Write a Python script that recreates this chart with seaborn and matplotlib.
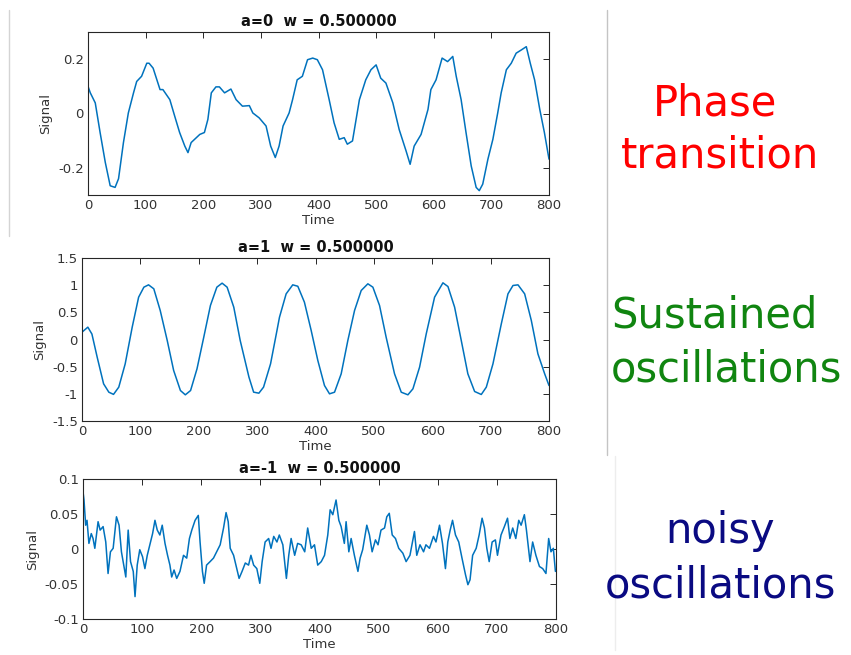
"""
plot.py
-------
Three MATLAB-style signal traces with regime labels on the right.
"""

import matplotlib
matplotlib.use("Agg")
import matplotlib.pyplot as plt
import pandas as pd
import seaborn as sns
from matplotlib.lines import Line2D
from matplotlib.ticker import FuncFormatter

# ---- data ----
phase_time = [0, 4, 12.6, 21, 30, 38.5, 47, 53, 61.5, 70, 79, 84.5, 93, 102, 106,
              113, 125, 130, 142, 150.5, 159, 168, 173.5, 179, 188, 194, 202, 208,
              214, 222, 228, 237, 248, 257, 268, 280, 286, 297, 309, 317, 325,
              331.6, 338.5, 349, 355, 363, 372, 381, 390, 398, 407, 418.5, 427,
              436, 444.6, 450, 459, 471, 482, 491, 500, 508, 517, 529, 540, 552,
              559, 566, 578, 590, 595, 604, 614.5, 624, 633, 639, 647.5, 656, 665,
              673.6, 679, 685, 694, 702.6, 711, 717, 726, 734.5, 743, 752, 760.6,
              767.5, 775, 784, 792, 800]
phase_signal = [0.10, 0.076, 0.039, -0.07, -0.18, -0.266, -0.272, -0.24, -0.107,
                0.002, 0.076, 0.118, 0.137, 0.185, 0.185, 0.167, 0.088, 0.088,
                0.051, -0.01, -0.07, -0.12, -0.144, -0.107, -0.089, -0.077, -0.07,
                -0.022, 0.076, 0.098, 0.098, 0.076, 0.09, 0.051, 0.027, 0.029,
                0.002, -0.016, -0.046, -0.12, -0.162, -0.12, -0.046, 0.002, 0.051,
                0.124, 0.137, 0.198, 0.204, 0.198, 0.161, 0.051, -0.034, -0.095,
                -0.089, -0.113, -0.101, 0.051, 0.124, 0.161, 0.179, 0.13, 0.112,
                0.039, -0.059, -0.138, -0.187, -0.12, -0.077, 0.015, 0.088, 0.124,
                0.204, 0.191, 0.21, 0.137, 0.051, -0.07, -0.193, -0.272, -0.284,
                -0.26, -0.168, -0.095, 0.002, 0.076, 0.161, 0.185, 0.222, 0.234,
                0.246, 0.185, 0.124, 0.015, -0.07, -0.168]

sustained_time = [0, 10, 17, 26, 37, 46, 54, 63, 74, 86, 97, 106, 114, 123, 134,
                  146, 157, 168.6, 177, 186, 197, 208.6, 220, 231, 240, 248.6, 260,
                  271, 286, 294, 303, 311, 323, 334, 338.3, 349.7, 361, 369.7, 381,
                  392.6, 404, 415.4, 424, 432.6, 444, 455.4, 466.9, 478.3, 489.7,
                  498.3, 509.7, 521, 535.4, 546.9, 558.3, 566.9, 578.3, 589.7, 604,
                  618.3, 626.9, 638.3, 649.7, 661, 672.6, 684, 692.6, 704, 718.3,
                  729.7, 738.3, 746.9, 758.3, 769.7, 781, 792.6, 800]
sustained_signal = [0.135, 0.227, 0.10, -0.325, -0.816, -0.97, -1.01, -0.877,
                    -0.448, 0.227, 0.779, 0.963, 1.006, 0.933, 0.534, -0.018, -0.57,
                    -0.939, -1.018, -0.939, -0.54, 0.043, 0.626, 0.963, 1.037, 0.963,
                    0.595, -0.018, -0.693, -0.969, -0.988, -0.877, -0.448, 0.166,
                    0.41, 0.84, 1.006, 0.98, 0.687, 0.166, -0.387, -0.847, -1.0,
                    -0.97, -0.632, -0.018, 0.534, 0.902, 1.025, 0.963, 0.626, 0.043,
                    -0.632, -0.97, -1.018, -0.908, -0.509, 0.104, 0.779, 1.043,
                    0.975, 0.595, -0.018, -0.632, -0.957, -1.012, -0.877, -0.448,
                    0.288, 0.84, 0.994, 1.006, 0.84, 0.35, -0.264, -0.632, -0.847]

noisy_time = [0, 1.7, 4.5, 6.8, 10, 14, 17, 20, 25.5, 29, 34, 38.5, 42.4, 46.4, 51,
              56.6, 61, 65, 69, 72.4, 76.4, 80.4, 85, 88, 91.7, 96, 100.7, 104.7,
              108.7, 113, 117.7, 121.7, 125.6, 130, 134, 138.7, 143, 147, 150, 154,
              158.5, 164, 170, 175.4, 180, 184, 189.6, 195, 198, 202, 205, 209, 215,
              220.7, 226, 232, 237.7, 242, 245.6, 249, 254.7, 260, 264, 269, 274.5,
              280, 284, 288.6, 294, 299, 303, 308, 314, 318, 322.6, 328, 332, 338,
              344, 348, 352, 358, 363, 369, 375, 380, 386, 391.5, 397, 403, 408.5,
              414, 418, 422.5, 428, 432.7, 436.6, 442, 445, 449.6, 453.5, 459, 465,
              468.7, 473, 480, 484.5, 489, 494.6, 499, 504, 510, 513.8, 518, 523,
              528.5, 534, 541, 546.5, 553, 560.6, 564.5, 570, 576, 580, 586, 592.7,
              597, 603, 608, 613, 617, 621, 625, 630, 635.5, 641, 647, 651, 654.6,
              659, 665, 670, 675, 679, 683, 687, 692, 697.5, 701, 707, 712.7, 718,
              722, 726.8, 732, 737, 741, 746.5, 750, 756, 760.5, 766, 772, 777.5,
              783, 787.6, 791.5, 795.5, 799]
noisy_signal = [0.082, 0.07, 0.034, 0.041, 0.008, 0.022, 0.015, 0.001, 0.039, 0.027,
                0.032, 0.010, -0.035, -0.004, 0.001, 0.046, 0.034, -0.004, -0.023,
                -0.04, 0.027, -0.018, -0.032, -0.068, -0.023, -0.001, -0.011, -0.028,
                -0.009, 0.006, 0.022, 0.041, 0.027, 0.020, 0.034, 0.008, -0.009,
                -0.023, -0.04, -0.03, -0.042, -0.032, -0.009, -0.013, 0.015, 0.027,
                0.041, 0.048, 0.010, -0.032, -0.049, -0.023, -0.018, -0.013, -0.004,
                0.006, 0.03, 0.052, 0.039, 0.001, -0.009, -0.028, -0.042, -0.032,
                -0.02, -0.023, -0.009, -0.023, -0.028, -0.049, -0.018, 0.010, 0.015,
                0.001, 0.018, 0.010, 0.02, 0.006, -0.042, -0.009, 0.015, -0.009,
                0.008, 0.006, -0.004, 0.030, 0.001, 0.006, -0.023, -0.018, -0.009,
                0.020, 0.056, 0.049, 0.070, 0.041, 0.032, 0.008, 0.039, -0.004,
                0.015, -0.009, -0.032, -0.013, -0.001, 0.034, 0.020, -0.004, 0.013,
                0.006, 0.027, 0.030, 0.046, 0.051, 0.020, 0.015, 0.001, -0.006,
                -0.018, -0.009, 0.025, -0.009, 0.006, -0.004, 0.006, 0.001, 0.018,
                0.010, 0.034, 0.008, -0.028, 0.010, 0.027, 0.041, 0.020, 0.010,
                -0.013, -0.037, -0.051, -0.044, -0.009, 0.001, 0.020, 0.044, 0.030,
                0.001, -0.018, 0.010, 0.013, -0.009, 0.020, 0.032, 0.044, 0.015,
                0.030, 0.015, 0.041, 0.034, 0.049, 0.027, -0.018, 0.010, -0.009,
                -0.025, -0.028, -0.035, 0.015, -0.004, 0.001, -0.032]

titles = ["a=0  w = 0.500000", "a=1  w = 0.500000", "a=-1  w = 0.500000"]
y_ticks = [[-0.2, 0, 0.2], [-1.5, -1, -0.5, 0, 0.5, 1, 1.5], [-0.1, -0.05, 0, 0.05, 0.1]]
y_limits = [(-0.3, 0.3), (-1.5, 1.5), (-0.1, 0.1)]
x_ticks = [0, 100, 200, 300, 400, 500, 600, 700, 800]

labels = [("Phase", "transition"), ("Sustained", "oscillations"), ("noisy", "oscillations")]
label_colors = ["#ff0000", "#108510", "#0a0a82"]

W, H = 851, 655
LINE_COLOR = "#0072BD"
INK = "#333333"


def fx(px):
    return px / W


def fy(py):
    return 1 - py / H


sns.set_style("white")
plt.rcParams["font.family"] = ["DejaVu Sans"]
plt.rcParams["axes.unicode_minus"] = False

fig = plt.figure(figsize=(W / 100, H / 100), dpi=100)

# axes boxes in pixels: left, top, right, bottom
boxes = [(88, 32, 549, 195), (82, 258, 549, 421), (83, 479, 556, 619)]
series = [(phase_time, phase_signal), (sustained_time, sustained_signal),
          (noisy_time, noisy_signal)]

for i, (l, t, r, b) in enumerate(boxes):
    ax = fig.add_axes([fx(l), fy(b), fx(r) - fx(l), fy(t) - fy(b)])
    df = pd.DataFrame({"Time": series[i][0], "Signal": series[i][1]})
    sns.lineplot(data=df, x="Time", y="Signal", ax=ax, color=LINE_COLOR,
                 linewidth=1.1, estimator=None, sort=False)
    ax.set_xlim(0, 800)
    ax.set_ylim(*y_limits[i])
    ax.set_xticks(x_ticks)
    ax.set_yticks(y_ticks[i])
    ax.yaxis.set_major_formatter(FuncFormatter(lambda v, p: f"{v:g}"))
    ax.tick_params(direction="in", top=True, right=True, length=4, width=0.7,
                   color="#262626", labelsize=9.5, labelcolor=INK, pad=3)
    for spine in ax.spines.values():
        spine.set_visible(True)
        spine.set_color("#262626")
        spine.set_linewidth(0.8)
    ax.set_xlabel("Time", fontsize=9.5, color=INK, labelpad=1)
    ax.set_ylabel("Signal", fontsize=9.5, color=INK, labelpad=4)
    ax.set_title(titles[i], fontsize=10.5, fontweight="bold", color="#111111", pad=4)

# regime labels on the right
label_pos = [((655, 115), (623, 167)), ((613, 327), (613, 382)), ((667, 543), (607, 597))]
for (first, second), color, (p1, p2) in zip(labels, label_colors, label_pos):
    fig.text(fx(p1[0] - 2), fy(p1[1]), first, fontsize=30, color=color, va="baseline")
    fig.text(fx(p2[0] - 2), fy(p2[1]), second, fontsize=30, color=color, va="baseline")

# faint slide separators
fig.add_artist(Line2D([fx(607), fx(607)], [fy(10), fy(455)], color="#c4c4c4", lw=1))
fig.add_artist(Line2D([fx(9), fx(9)], [fy(10), fy(236)], color="#d4d4d4", lw=1))
fig.add_artist(Line2D([fx(615), fx(615)], [fy(456), fy(650)], color="#ededed", lw=1))

fig.savefig("out.png", dpi=100)
